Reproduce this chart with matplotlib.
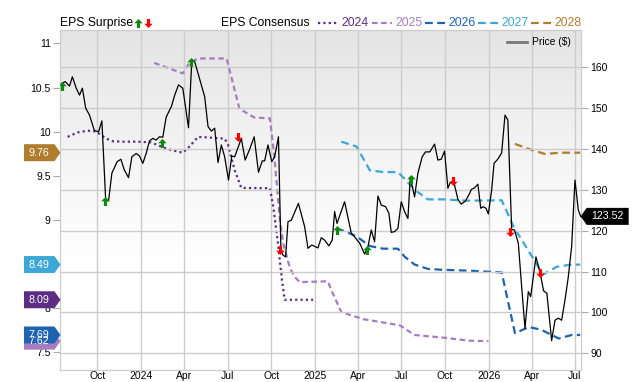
import matplotlib
matplotlib.use("Agg")
import matplotlib.pyplot as plt
import matplotlib.dates as mdates
from matplotlib.path import Path
from matplotlib.patches import Polygon
from matplotlib.lines import Line2D
from matplotlib.ticker import FuncFormatter
from matplotlib.transforms import ScaledTranslation, blended_transform_factory
import numpy as np
import pandas as pd

plt.rcParams['font.family'] = ['Liberation Sans', 'DejaVu Sans']

# price ($)
price_dates = ["2023-07-19","2023-07-26","2023-08-04","2023-08-10","2023-08-18","2023-08-25","2023-08-31","2023-09-07","2023-09-15","2023-09-25",
               "2023-10-04","2023-10-11","2023-10-19","2023-10-25","2023-11-01","2023-11-12","2023-11-20","2023-11-27","2023-12-06","2023-12-13",
               "2023-12-22","2023-12-29","2024-01-05","2024-01-12","2024-01-19","2024-01-26","2024-02-02","2024-02-09","2024-02-16","2024-02-23",
               "2024-03-05","2024-03-12","2024-03-20","2024-03-29","2024-04-10","2024-04-17","2024-04-23","2024-04-30","2024-05-14","2024-05-21",
               "2024-05-28","2024-06-04","2024-06-11","2024-06-18","2024-06-25","2024-07-03","2024-07-10","2024-07-16","2024-07-30","2024-08-07",
               "2024-08-16","2024-08-26","2024-09-04","2024-09-12","2024-09-17","2024-09-24","2024-10-02","2024-10-08","2024-10-16","2024-10-21",
               "2024-10-25","2024-10-31","2024-11-05","2024-11-12","2024-11-27","2024-12-10","2024-12-17","2024-12-25","2025-01-07","2025-01-14",
               "2025-01-21","2025-01-30","2025-02-06","2025-02-11","2025-02-16","2025-03-04","2025-03-18","2025-03-25","2025-04-05","2025-04-15",
               "2025-04-22","2025-04-29","2025-05-06","2025-05-13","2025-05-20","2025-05-29","2025-06-05","2025-06-10","2025-06-17","2025-06-24",
               "2025-07-01","2025-07-08","2025-07-15","2025-07-20","2025-07-29","2025-08-05","2025-08-14","2025-08-21","2025-08-30","2025-09-09",
               "2025-09-16","2025-09-23","2025-09-30","2025-10-07","2025-10-12","2025-10-19","2025-10-28","2025-11-04","2025-11-13","2025-11-22",
               "2025-11-25","2025-12-02","2025-12-09","2025-12-15","2025-12-20","2025-12-26","2025-12-31","2026-01-07","2026-01-12","2026-01-21",
               "2026-01-28","2026-02-04","2026-02-10","2026-02-18","2026-02-24","2026-03-04","2026-03-11","2026-03-18","2026-03-25","2026-03-30",
               "2026-04-10","2026-04-19","2026-04-26","2026-05-03","2026-05-13","2026-05-20","2026-05-27","2026-06-03","2026-06-10","2026-06-17",
               "2026-06-24","2026-07-01","2026-07-08","2026-07-13"]
price_vals = [156.1,156.5,155.4,157.7,154.9,153.2,154.9,150.0,148.3,144.6,
              144.2,146.9,127.5,127.3,134.1,136.9,137.5,134.9,133.0,138.1,
              138.9,138.3,136.5,138.9,142.0,142.6,142.2,143.0,142.9,147.8,
              150.4,153.2,155.7,154.9,145.2,161.8,161.4,158.5,152.8,145.5,
              144.4,145.1,136.7,141.0,138.1,132.4,138.3,138.1,142.6,137.3,
              139.8,143.0,134.3,137.1,137.1,141.0,136.9,138.1,143.0,116.1,
              114.1,113.6,122.2,122.6,126.7,121.0,115.7,116.5,115.8,118.3,
              117.7,116.3,117.7,124.7,121.8,127.1,119.4,118.5,116.9,114.3,
              116.1,120.2,117.3,128.5,126.3,125.9,124.3,119.6,119.8,120.6,
              127.1,124.7,123.0,133.1,128.3,134.1,138.1,139.3,139.3,141.2,
              137.3,137.5,139.5,130.4,131.8,132.2,127.7,126.5,127.3,129.2,
              130.1,130.5,131.4,125.5,125.9,125.5,124.1,130.0,136.5,137.7,
              139.1,148.3,147.1,120.3,120.2,116.9,106.3,96.1,105.1,103.9,
              113.6,109.6,105.3,104.7,93.1,98.1,98.6,98.1,103.0,108.7,
              116.1,132.4,125.1,123.52]

# EPS consensus per fiscal year
eps24_dates = ["2023-07-31","2023-08-21","2023-09-11","2023-09-29","2023-10-20","2023-11-03","2023-11-27","2023-12-25","2024-01-22","2024-02-05",
               "2024-02-26","2024-03-29","2024-04-12","2024-04-30","2024-06-25","2024-07-02","2024-07-16","2024-07-30","2024-09-28","2024-10-05",
               "2024-10-15","2024-10-23","2024-10-29","2024-12-28"]
eps24_vals = [9.94,9.99,10.01,10.00,9.92,9.89,9.885,9.885,9.878,9.847,
              9.80,9.76,9.83,9.94,9.92,9.85,9.56,9.36,9.356,9.15,
              8.73,8.33,8.09,8.09]

eps25_dates = ["2024-01-29","2024-03-29","2024-04-12","2024-04-30","2024-06-29","2024-07-09","2024-07-26","2024-08-26","2024-09-28","2024-10-08",
               "2024-10-19","2024-10-26","2024-11-09","2024-11-19","2024-11-30","2025-01-28","2025-02-04","2025-02-25","2025-04-12","2025-06-28",
               "2025-07-29","2025-09-27","2025-11-22","2025-12-31"]
eps25_vals = [10.78,10.66,10.78,10.83,10.83,10.62,10.26,10.16,10.15,9.68,
              9.00,8.73,8.45,8.35,8.29,8.30,8.20,7.95,7.87,7.80,
              7.69,7.66,7.625,7.62]

eps26_dates = ["2025-02-15","2025-03-08","2025-03-29","2025-04-26","2025-05-24","2025-06-24","2025-07-08","2025-07-29","2025-08-26","2025-09-27",
               "2025-11-22","2026-01-28","2026-02-25","2026-03-26","2026-04-21","2026-05-28","2026-06-24","2026-07-12"]
eps26_vals = [8.90,8.86,8.81,8.70,8.67,8.67,8.58,8.49,8.44,8.43,
              8.42,8.40,7.71,7.78,7.75,7.65,7.69,7.69]

eps27_dates = ["2025-02-25","2025-03-29","2025-04-26","2025-05-24","2025-06-24","2025-07-05","2025-07-29","2025-08-26","2025-09-27","2025-11-15",
               "2026-01-28","2026-02-22","2026-04-19","2026-04-26","2026-05-24","2026-06-17","2026-07-12"]
eps27_vals = [9.885,9.83,9.56,9.54,9.54,9.48,9.34,9.23,9.23,9.215,
              9.22,8.92,8.43,8.38,8.465,8.485,8.49]

eps28_dates = ["2026-02-25","2026-03-22","2026-04-29","2026-05-31","2026-07-12"]
eps28_vals = [9.86,9.81,9.745,9.76,9.76]

# earnings surprises, placed on the price line
surprise_dates = ["2023-07-19","2023-10-18","2024-02-14","2024-04-16","2024-07-22","2024-10-20",
                  "2025-02-16","2025-04-19","2025-07-21","2025-10-17","2026-02-15","2026-04-19"]
surprise_prices = [155.4,127.3,141.4,161.4,143.0,115.3,120.2,115.3,132.7,132.2,119.8,109.7]
surprise_dir = [1,1,1,1,-1,-1,1,1,1,-1,-1,-1]

years = ["2024","2025","2026","2027","2028"]
colors = ["#5c2d82","#a77dc2","#1f62b0","#3fa7d6","#b07c2e"]
styles = [(0,(1,1.4)),(0,(2.5,1.6)),(0,(3.5,2)),(0,(3.5,2)),(0,(3.5,2))]
series = [(eps24_dates,eps24_vals),(eps25_dates,eps25_vals),(eps26_dates,eps26_vals),
          (eps27_dates,eps27_vals),(eps28_dates,eps28_vals)]

up_arrow = Path([(0,1),(0.95,0.05),(0.35,0.05),(0.35,-1),(-0.35,-1),(-0.35,0.05),(-0.95,0.05),(0,1)])
down_arrow = Path([(x,-y) for x,y in up_arrow.vertices])

fig = plt.figure(figsize=(6.4,3.82), dpi=100)
ax = fig.add_axes([0.0945, 0.0327, 0.8128, 0.8887])
ax2 = ax.twinx()

# grey-to-white background
t = np.linspace(1, 0, 300)
g = 1 - 0.105*np.clip((t-0.3)/0.7, 0, 1)**1.2
img = np.dstack([g, g, g]).reshape(300,1,3)
ax.imshow(img, extent=[0,1,0,1], transform=ax.transAxes, aspect='auto', zorder=0)

for (d, v), c, ls in zip(series, colors, styles):
    ax.plot(pd.to_datetime(d), v, color=c, lw=1.6, ls=ls, zorder=3)

ax2.plot(pd.to_datetime(price_dates), price_vals, color='black', lw=0.9, zorder=4)
for d, p, s in zip(surprise_dates, surprise_prices, surprise_dir):
    ax2.plot(pd.Timestamp(d), p, marker=up_arrow if s > 0 else down_arrow, ms=6.5,
             color='#0b8a0b' if s > 0 else '#ff0000', mec='none', zorder=6)

ax.set_xlim(pd.Timestamp("2023-07-16"), pd.Timestamp("2026-07-13"))
ax.set_ylim(7.298, 11.153)
ax2.set_ylim(86.04, 169.13)

ax.xaxis.set_major_locator(mdates.MonthLocator(bymonth=[1,4,7,10]))
ax.xaxis.set_major_formatter(FuncFormatter(
    lambda x, pos: str(mdates.num2date(x).year) if mdates.num2date(x).month == 1 else mdates.num2date(x).strftime('%b')))
ax.set_yticks(np.arange(7.5, 11.01, 0.5))
ax.yaxis.set_major_formatter(FuncFormatter(lambda v, pos: '{:g}'.format(v)))
ax2.set_yticks(np.arange(90, 161, 10))

ax.grid(axis='x', color='#cccccc', lw=1)
ax2.grid(axis='y', color='#cccccc', lw=1)
ax.tick_params(axis='y', length=5, color='#aaaaaa', labelsize=7.5, pad=2)
ax.tick_params(axis='x', length=0, labelsize=7.5, pad=1)
ax2.tick_params(axis='y', length=5, color='#aaaaaa', labelsize=7.5, pad=2)
for a in (ax, ax2):
    for sp in a.spines.values():
        sp.set_color('#cccccc')

# value tags at the left edge (EPS) and right edge (price)
left_anchor = blended_transform_factory(ax.transAxes, ax.transData)
right_anchor = blended_transform_factory(ax2.transAxes, ax2.transData)
for i in [1, 4, 3, 0, 2]:
    val = series[i][1][-1]
    tr = fig.dpi_scale_trans + ScaledTranslation(0, val, left_anchor)
    fig.add_artist(Polygon([(0,0),(-0.06,0.085),(-0.365,0.085),(-0.365,-0.085),(-0.06,-0.085)],
                           closed=True, transform=tr, fc=colors[i], ec='none', zorder=10))
    fig.text(-0.215, 0, '%.2f' % val, transform=tr, color='white', fontsize=7.7,
             ha='center', va='center', zorder=11)

last = price_vals[-1]
tr = fig.dpi_scale_trans + ScaledTranslation(1, last, right_anchor)
fig.add_artist(Polygon([(0,0),(0.06,0.085),(0.48,0.085),(0.48,-0.085),(0.06,-0.085)],
                       closed=True, transform=tr, fc='black', ec='none', zorder=10))
fig.text(0.27, 0, '%.2f' % last, transform=tr, color='white', fontsize=7.7,
         ha='center', va='center', zorder=11)

# legend row
ly = 1 - 23/382
fig.text(60/640, ly, 'EPS Surprise', fontsize=8.7, va='center')
fig.add_artist(Line2D([138/640], [ly], transform=fig.transFigure, marker=up_arrow, ms=6.5,
                      color='#0b8a0b', mec='none', ls='none'))
fig.add_artist(Line2D([148/640], [ly], transform=fig.transFigure, marker=down_arrow, ms=6.5,
                      color='#ff0000', mec='none', ls='none'))
fig.text(221/640, ly, 'EPS Consensus', fontsize=8.7, va='center')
line_x = [318, 372, 425, 478, 531]
for x0, y, c, ls in zip(line_x, years, colors, styles):
    fig.add_artist(Line2D([x0/640, (x0+20)/640], [ly, ly], transform=fig.transFigure,
                          color=c, lw=1.6, ls=ls))
    fig.text((x0+23)/640, ly, y, color=c, fontsize=8.7, va='center')

fig.add_artist(Line2D([507/640, 527/640], [1-42/382, 1-42/382], transform=fig.transFigure,
                      color='#777777', lw=2))
fig.text(532/640, 1-42/382, 'Price ($)', fontsize=7.4, va='center')

fig.savefig('out.png', dpi=100)
